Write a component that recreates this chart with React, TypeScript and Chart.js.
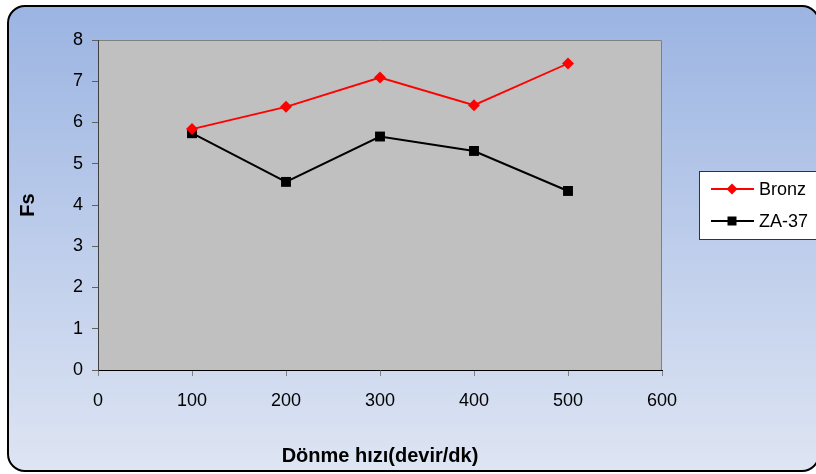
import React, { useEffect, useRef } from "react";
import { Chart, registerables } from "chart.js";

Chart.register(...registerables);

// Rotation speed (devir/dk) on the x axis
const speeds = [100, 200, 300, 400, 500];
// Fs values per material
const bronzValues = [5.84, 6.38, 7.09, 6.42, 7.43];
const za37Values = [5.74, 4.56, 5.66, 5.31, 4.34];

const seriesNames = ["Bronz", "ZA-37"];
const xTitle = "Dönme hızı(devir/dk)";
const yTitle = "Fs";

const FONT = "'Liberation Sans', Arial, Helvetica, sans-serif";

const backgroundPlugin = {
  id: "frameAndPlot",
  beforeDraw(chart: any) {
    const { ctx, chartArea } = chart;
    ctx.save();
    // rounded outer frame with vertical blue gradient
    const x0 = 8, y0 = 6, x1 = 819, y1 = 471, r = 17;
    const grad = ctx.createLinearGradient(0, y0, 0, y1);
    grad.addColorStop(0, "#9bb4e2");
    grad.addColorStop(1, "#dee5f3");
    ctx.beginPath();
    ctx.moveTo(x0 + r, y0);
    ctx.lineTo(x1 - r, y0);
    ctx.arcTo(x1, y0, x1, y0 + r, r);
    ctx.lineTo(x1, y1 - r);
    ctx.arcTo(x1, y1, x1 - r, y1, r);
    ctx.lineTo(x0 + r, y1);
    ctx.arcTo(x0, y1, x0, y1 - r, r);
    ctx.lineTo(x0, y0 + r);
    ctx.arcTo(x0, y0, x0 + r, y0, r);
    ctx.closePath();
    ctx.fillStyle = grad;
    ctx.fill();
    ctx.lineWidth = 2;
    ctx.strokeStyle = "#000000";
    ctx.stroke();

    // grey plot area
    ctx.fillStyle = "#c0c0c0";
    ctx.fillRect(chartArea.left, chartArea.top, chartArea.right - chartArea.left, chartArea.bottom - chartArea.top);
    ctx.strokeStyle = "#808080";
    ctx.lineWidth = 1;
    ctx.beginPath();
    ctx.moveTo(chartArea.left, chartArea.top + 0.5);
    ctx.lineTo(chartArea.right - 0.5, chartArea.top + 0.5);
    ctx.lineTo(chartArea.right - 0.5, chartArea.bottom);
    ctx.stroke();
    ctx.restore();
  },
  afterDraw(chart: any) {
    const { ctx } = chart;
    ctx.save();
    // legend box
    const bx = 699.5, by = 171.5, bw = 130, bh = 68;
    ctx.fillStyle = "#ffffff";
    ctx.fillRect(bx, by, bw, bh);
    ctx.strokeStyle = "#333333";
    ctx.lineWidth = 1;
    ctx.strokeRect(bx, by, bw, bh);

    const rows = [189, 221];
    chart.data.datasets.forEach((ds: any, i: number) => {
      const y = rows[i];
      ctx.strokeStyle = ds.borderColor;
      ctx.lineWidth = ds.borderWidth;
      ctx.beginPath();
      ctx.moveTo(711, y);
      ctx.lineTo(754, y);
      ctx.stroke();
      ctx.fillStyle = ds.pointBackgroundColor;
      ctx.beginPath();
      if (ds.pointStyle === "rectRot") {
        const s = 5.5;
        ctx.moveTo(732, y - s);
        ctx.lineTo(732 + s, y);
        ctx.lineTo(732, y + s);
        ctx.lineTo(732 - s, y);
        ctx.closePath();
      } else {
        ctx.rect(727.5, y - 4.5, 9, 9);
      }
      ctx.fill();
      ctx.fillStyle = "#000000";
      ctx.font = `18px ${FONT}`;
      ctx.textBaseline = "middle";
      ctx.textAlign = "left";
      ctx.fillText(ds.label, 759, y + 1);
    });
    ctx.restore();
  },
};

export default function App() {
  const canvasRef = useRef<HTMLCanvasElement | null>(null);

  useEffect(() => {
    const canvas = canvasRef.current;
    if (!canvas) return;
    const chart = new Chart(canvas, {
      type: "line",
      data: {
        datasets: [
          {
            label: seriesNames[0],
            data: speeds.map((s, i) => ({ x: s, y: bronzValues[i] })),
            borderColor: "#ff0000",
            backgroundColor: "#ff0000",
            pointBackgroundColor: "#ff0000",
            pointBorderColor: "#ff0000",
            pointStyle: "rectRot",
            pointRadius: 6,
            pointBorderWidth: 0,
            borderWidth: 1.8,
            tension: 0,
          },
          {
            label: seriesNames[1],
            data: speeds.map((s, i) => ({ x: s, y: za37Values[i] })),
            borderColor: "#000000",
            backgroundColor: "#000000",
            pointBackgroundColor: "#000000",
            pointBorderColor: "#000000",
            pointStyle: "rect",
            pointRadius: 7,
            pointBorderWidth: 0,
            borderWidth: 2,
            tension: 0,
          },
        ],
      },
      options: {
        animation: false,
        responsive: false,
        devicePixelRatio: 1,
        layout: { padding: { left: 10, right: 154, top: 40, bottom: 0 } },
        plugins: {
          legend: { display: false },
          tooltip: { enabled: false },
        },
        scales: {
          x: {
            type: "linear",
            min: 0,
            max: 600,
            afterFit(scale: any) {
              scale.height = 104;
            },
            ticks: {
              stepSize: 100,
              color: "#000000",
              padding: 14,
              font: { family: FONT, size: 18 },
            },
            grid: {
              drawOnChartArea: false,
              tickLength: 6,
              color: "#808080",
            },
            border: { color: "#000000", width: 1 },
            title: {
              display: true,
              text: xTitle,
              color: "#000000",
              font: { family: FONT, size: 20, weight: "bold" },
              padding: { top: 0, bottom: 6 },
            },
          },
          y: {
            type: "linear",
            min: 0,
            max: 8,
            afterFit(scale: any) {
              scale.width = 88;
            },
            ticks: {
              stepSize: 1,
              color: "#000000",
              padding: 9,
              font: { family: FONT, size: 18 },
            },
            grid: {
              drawOnChartArea: false,
              tickLength: 6,
              color: "#606060",
            },
            border: { color: "#404040", width: 1 },
            title: {
              display: true,
              text: yTitle,
              color: "#000000",
              font: { family: FONT, size: 20, weight: "bold" },
              padding: { top: 6, bottom: 0 },
            },
          },
        },
      },
      plugins: [backgroundPlugin],
    } as any);
    return () => chart.destroy();
  }, []);

  return (
    <div style={{ position: "absolute", left: 0, top: 0, width: 816, height: 474 }}>
      <canvas ref={canvasRef} width={816} height={474} style={{ display: "block" }} />
    </div>
  );
}
